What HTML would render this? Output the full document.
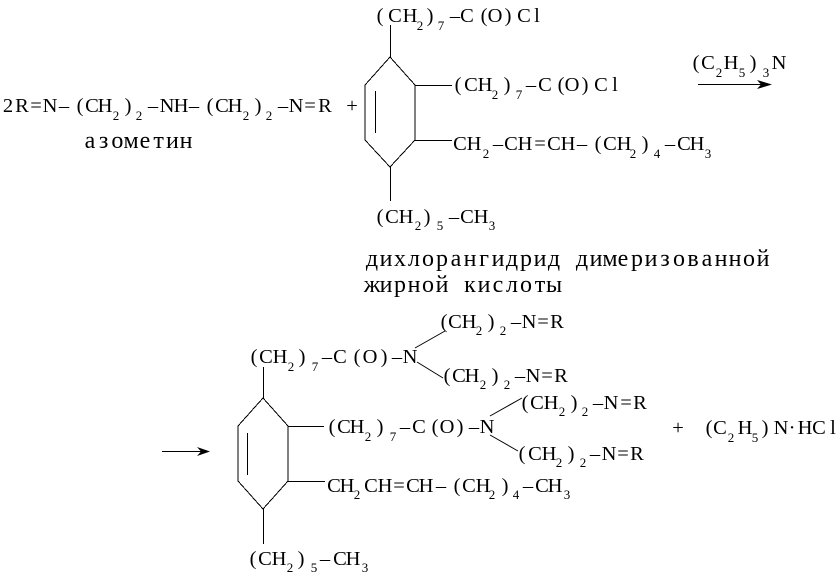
<!DOCTYPE html>
<html lang="ru"><head><meta charset="utf-8"><title>Reaction scheme</title>
<style>
html,body{margin:0;padding:0;background:#fff}
svg{display:block}
text{font-family:"Liberation Serif",serif;font-size:20.5px;fill:#000;text-anchor:middle}
.s{font-size:13px}
text.c{font-size:24px}
.l{fill:none;stroke:#000;stroke-width:1;shape-rendering:crispEdges}
</style></head><body>
<svg width="839" height="578" viewBox="0 0 839 578" xmlns="http://www.w3.org/2000/svg">
<!-- Row 1 reactant -->
<text y="112"><tspan x="8 22 36 50 64 80 92 105">2R=N–(CH</tspan><tspan class="s" x="116" y="120">2</tspan><tspan x="128" y="112">)</tspan><tspan class="s" x="139" y="120">2</tspan><tspan x="153 167 181 194 210 222 235" y="112">–NH–(CH</tspan><tspan class="s" x="246" y="120">2</tspan><tspan x="258" y="112">)</tspan><tspan class="s" x="269" y="120">2</tspan><tspan x="283 296 310 325 352" y="112">–N=R+</tspan></text>
<text class="c" y="148" x="90 103.6 117.4 131.1 144.9 158.6 172.4 186.1">азометин</text>

<!-- Ring 1 -->
<path class="l" d="M390 57L415 85V140L390 167L365 140V85Z"/>
<path class="l" d="M375.5 91V133M390.5 25V57M390.5 167V201M415 85.5H452M415 140.5H452"/>

<text y="22"><tspan x="380 395 410">(CH</tspan><tspan class="s" x="420" y="30">2</tspan><tspan x="430" y="22">)</tspan><tspan class="s" x="441" y="30">7</tspan><tspan x="455 467 484 495 508 524 537" y="22">–C(O)Cl</tspan></text>
<text y="91"><tspan x="458 471 485">(CH</tspan><tspan class="s" x="495" y="99">2</tspan><tspan x="507" y="91">)</tspan><tspan class="s" x="519" y="99">7</tspan><tspan x="531 545 561 572 585 601 615" y="91">–C(O)Cl</tspan></text>
<text y="150"><tspan x="460 474">CH</tspan><tspan class="s" x="486" y="158">2</tspan><tspan x="498 511 525 540 554 568 582 598 610 624" y="150">–CH=CH–(CH</tspan><tspan class="s" x="633" y="158">2</tspan><tspan x="645" y="150">)</tspan><tspan class="s" x="657" y="158">4</tspan><tspan x="670 684 697" y="150">–CH</tspan><tspan class="s" x="708" y="158">3</tspan></text>
<text y="223"><tspan x="380 392 406">(CH</tspan><tspan class="s" x="418" y="230">2</tspan><tspan x="427" y="223">)</tspan><tspan class="s" x="440" y="230">5</tspan><tspan x="454 467 481" y="223">–CH</tspan><tspan class="s" x="492" y="230">3</tspan></text>

<text class="c" y="266" x="372 386 400 414 428 442 456 470 484 498 512 526 540 554">дихлорангидрид</text>
<text class="c" y="266" x="582 596 610 623 637 651 665 679 693 707 721 735 749 763">димеризованной</text>
<text class="c" y="292" x="372 386 400 414 428 442">жирной</text>
<text class="c" y="292" x="470 484 498 512 526 540 554">кислоты</text>

<!-- Reagent + arrow -->
<text y="69"><tspan x="696 708">(C</tspan><tspan class="s" x="719" y="77">2</tspan><tspan x="731" y="69">H</tspan><tspan class="s" x="742" y="77">5</tspan><tspan x="753" y="69">)</tspan><tspan class="s" x="766" y="77">3</tspan><tspan x="779" y="69">N</tspan></text>
<path class="l" d="M698 84.5H770"/>
<path d="M757 80L772 84.5L757 89L761 84.5Z" fill="#000"/>

<!-- Arrow 2 -->
<path class="l" d="M162 451.5H208"/>
<path d="M197 447L210 451.5L197 456L201 451.5Z" fill="#000"/>

<!-- Ring 2 -->
<path class="l" d="M263 398L288 426V481L263 509L238 481V426Z"/>
<path class="l" d="M247.5 433V475M263.5 367V398M263.5 509V544M288 426.5H324M288 481.5H325"/>
<path class="l" style="shape-rendering:auto" d="M415 348L445 331M417 362L443 378M490 416L522 398M490 435L518 451"/>

<text y="363"><tspan x="254 266 280">(CH</tspan><tspan class="s" x="291" y="371">2</tspan><tspan x="302" y="363">)</tspan><tspan class="s" x="315" y="371">7</tspan><tspan x="327 340 357 370 384 397 410" y="363">–C(O)–N</tspan></text>
<text y="328"><tspan x="444 455 469">(CH</tspan><tspan class="s" x="479" y="335">2</tspan><tspan x="491" y="328">)</tspan><tspan class="s" x="503" y="335">2</tspan><tspan x="516 529 543 557" y="328">–N=R</tspan></text>
<text y="382"><tspan x="447 459 472">(CH</tspan><tspan class="s" x="483" y="389">2</tspan><tspan x="495" y="382">)</tspan><tspan class="s" x="507" y="389">2</tspan><tspan x="520 533 547 561" y="382">–N=R</tspan></text>
<text y="433"><tspan x="332 344 357">(CH</tspan><tspan class="s" x="368" y="441">2</tspan><tspan x="380" y="433">)</tspan><tspan class="s" x="393" y="441">7</tspan><tspan x="405 419 435 447 460 474 487" y="433">–C(O)–N</tspan></text>
<text y="409"><tspan x="525 537 551">(CH</tspan><tspan class="s" x="562" y="416">2</tspan><tspan x="574" y="409">)</tspan><tspan class="s" x="585" y="416">2</tspan><tspan x="598 611 626 640" y="409">–N=R</tspan></text>
<text y="460"><tspan x="522 535 549">(CH</tspan><tspan class="s" x="559" y="467">2</tspan><tspan x="571" y="460">)</tspan><tspan class="s" x="583" y="467">2</tspan><tspan x="595 609 623 637" y="460">–N=R</tspan></text>
<text y="434"><tspan x="678">+</tspan><tspan x="709 720">(C</tspan><tspan class="s" x="731" y="442">2</tspan><tspan x="745" y="434">H</tspan><tspan class="s" x="755" y="442">5</tspan><tspan x="765 781 792 805 819 833" y="434">)N·HCl</tspan></text>
<text y="492"><tspan x="334 347">CH</tspan><tspan class="s" x="357" y="499">2</tspan><tspan x="371 385 399 413 426 441 457 469 483" y="492">CH=CH–(CH</tspan><tspan class="s" x="492" y="499">2</tspan><tspan x="505" y="492">)</tspan><tspan class="s" x="516" y="499">4</tspan><tspan x="528 542 555" y="492">–CH</tspan><tspan class="s" x="567" y="499">3</tspan></text>
<text y="565"><tspan x="253 265 279">(CH</tspan><tspan class="s" x="290" y="572">2</tspan><tspan x="301" y="565">)</tspan><tspan class="s" x="314" y="572">5</tspan><tspan x="325 340 353" y="565">–CH</tspan><tspan class="s" x="365" y="572">3</tspan></text>
</svg>
</body></html>
